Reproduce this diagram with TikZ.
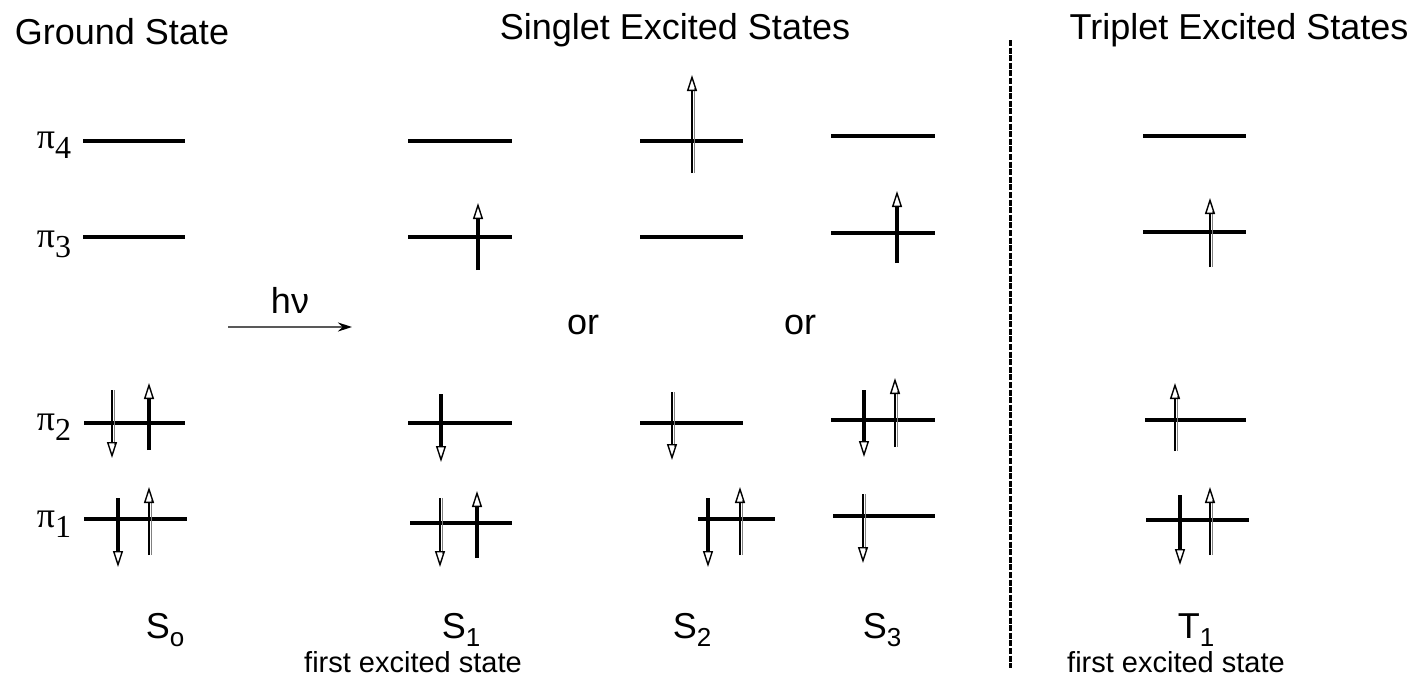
\documentclass[tikz,border=0pt]{standalone}
\usepackage{fontspec}
\setmainfont{Liberation Sans}
\newfontfamily\serif{Liberation Serif}
\usetikzlibrary{arrows.meta}
\newcommand\spinthin[3]{%
  \draw[gray,line width=0.5pt] ({#1+2.5},#2) -- ({#1+2.5},{#3+13*sign(#2-#3)});
  \draw[thinspin] (#1,#2) -- (#1,#3);}
\newcommand\spinthick[3]{\draw[thickspin] (#1,#2) -- (#1,#3);}
\newcommand\pilab[1]{{\serif\fontsize{18}{18}\selectfont π\raisebox{-0.6ex}{\fontsize{16}{16}\selectfont #1}}}
\newcommand\slab[2]{#1\raisebox{-0.4ex}{\fontsize{13}{13}\selectfont #2}}
\begin{document}
\begin{tikzpicture}[x=0.5pt,y=-0.5pt,
  lvl/.style={line width=2pt},
  thickspin/.style={line width=1.9pt,-{Triangle[open,length=8pt,width=5pt,line width=0.7pt]}},
  thinspin/.style={line width=0.6pt,-{Triangle[open,length=8pt,width=5pt,line width=0.7pt]}},
  lab/.style={font=\fontsize{18}{20}\selectfont,inner sep=0pt},
  sublab/.style={font=\fontsize{14.5}{16}\selectfont,inner sep=0pt}]
\useasboundingbox (0,0) rectangle (1420,680);
% titles
\node[lab] (gs) at (122,32) {Ground State};
\node[lab] (ses) at (675,30) {Singlet Excited States};
\node[lab] (tes) at (1239,30) {Triplet Excited States};
% pi labels
\node[inner sep=0pt] (p4) at (54,145) {\pilab{4}};
\node[inner sep=0pt] (p3) at (54,244) {\pilab{3}};
\node[inner sep=0pt] (p2) at (54,427) {\pilab{2}};
\node[inner sep=0pt] (p1) at (54,524) {\pilab{1}};
% S0
\draw[lvl] (83,141) -- (185,141);
\draw[lvl] (83,237) -- (185,237);
\draw[lvl] (84,423) -- (185,423);
\spinthin{112}{390}{458}
\spinthick{149}{450}{383}
\draw[lvl] (84,519) -- (187,519);
\spinthick{118}{498}{567}
\spinthin{149}{555}{487}
% hv
\node[lab] (hv) at (290,300) {hν};
\draw[gray!70!black,line width=0.8pt,-{Stealth[length=7pt,width=4.5pt,black]}] (228,327) -- (352,327);
% S1
\draw[lvl] (408,141) -- (512,141);
\draw[lvl] (408,237) -- (512,237);
\spinthick{478}{270}{203}
\draw[lvl] (408,423) -- (512,423);
\spinthick{441}{394}{462}
\draw[lvl] (410,523) -- (512,523);
\spinthin{440}{498}{567}
\spinthick{477}{558}{491}
% or
\node[lab] (or1) at (583,325) {or};
\node[lab] (or2) at (800,325) {or};
% S2
\draw[lvl] (640,141) -- (743,141);
\spinthin{692}{173}{75}
\draw[lvl] (640,237) -- (743,237);
\draw[lvl] (640,423) -- (743,423);
\spinthin{672}{392}{460}
\draw[lvl] (698,519) -- (775,519);
\spinthick{708}{498}{567}
\spinthin{740}{555}{487}
% S3
\draw[lvl] (831,136) -- (935,136);
\draw[lvl] (831,233) -- (935,233);
\spinthick{897}{263}{191}
\draw[lvl] (831,420) -- (935,420);
\spinthick{864}{390}{457}
\spinthin{895}{447}{378}
\draw[lvl] (833,516) -- (935,516);
\spinthin{863}{494}{563}
% divider
\draw[line width=1.5pt,dash pattern=on 3pt off 0.8pt] (1010,40) -- (1010,668);
% T1
\draw[lvl] (1143,136) -- (1246,136);
\draw[lvl] (1143,232) -- (1246,232);
\spinthin{1210}{267}{198}
\draw[lvl] (1145,420) -- (1246,420);
\spinthin{1175}{451}{383}
\draw[lvl] (1146,520) -- (1249,520);
\spinthick{1180}{495}{565}
\spinthin{1210}{555}{487}
% bottom labels
\node[lab] (s0) at (165,630) {\slab{S}{o}};
\node[lab] (s1) at (461,630) {\slab{S}{1}};
\node[sublab] (f1) at (413,662) {first excited state};
\node[lab] (s2) at (692,630) {\slab{S}{2}};
\node[lab] (s3) at (882,630) {\slab{S}{3}};
\node[lab] (t1) at (1196,630) {\slab{T}{1}};
\node[sublab] (f2) at (1176,662) {first excited state};
\end{tikzpicture}
\end{document}
